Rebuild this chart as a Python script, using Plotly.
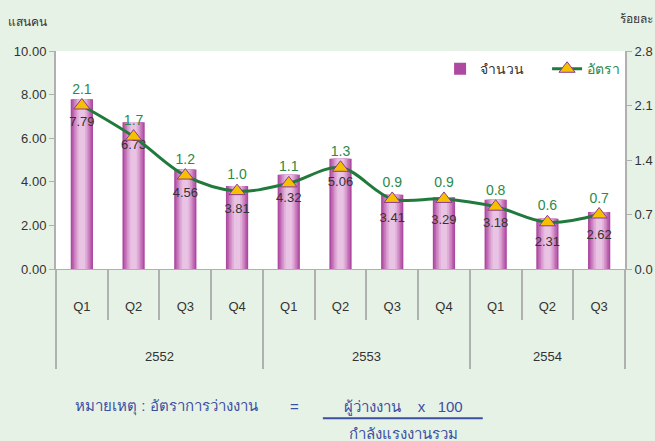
import plotly.graph_objects as go

years = ['2552'] * 4 + ['2553'] * 4 + ['2554'] * 3
quarters = ['Q1', 'Q2', 'Q3', 'Q4', 'Q1', 'Q2', 'Q3', 'Q4', 'Q1', 'Q2', 'Q3']
counts = [7.79, 6.73, 4.56, 3.81, 4.32, 5.06, 3.41, 3.29, 3.18, 2.31, 2.62]  # แสนคน
rates = [2.1, 1.7, 1.2, 1.0, 1.1, 1.3, 0.9, 0.9, 0.8, 0.6, 0.7]  # ร้อยละ

n = len(quarters)
idx = list(range(n))
FONT = 'Liberation Sans Narrow, Arial Narrow, Liberation Sans, sans-serif'
GREEN = '#1f7a3c'
GRAY = '#b0b0b0'

# year groups -> boundaries and centres for the two-level axis
groups = []
for i, y in enumerate(years):
    if not groups or groups[-1][0] != y:
        groups.append([y, i, i])
    else:
        groups[-1][2] = i
year_bounds = [g[1] - 0.5 for g in groups] + [groups[-1][2] + 0.5]
year_mid = [(g[1] + g[2]) / 2 for g in groups]

fig = go.Figure()

# fake a horizontal gradient by stacking narrower, lighter bars
layers = [(0.43, '#ad4a9f'), (0.37, '#bb62b0'), (0.31, '#c97cbe'),
          (0.25, '#d696cb'), (0.19, '#e0aed8'), (0.12, '#e9c3e3')]
for i, (w, c) in enumerate(layers):
    fig.add_trace(go.Bar(
        x=idx, y=counts, width=w,
        marker=dict(color=c, line=dict(width=0)),
        name='จำนวน', showlegend=(i == 0),
        hoverinfo='skip' if i else None,
    ))

# count labels under the triangles (invisible big marker pushes the text down)
fig.add_trace(go.Scatter(
    x=idx, y=counts, mode='markers+text',
    text=['%.2f' % v for v in counts], textposition='bottom center',
    textfont=dict(family=FONT, size=13, color='#333333'),
    marker=dict(size=26, opacity=0),
    showlegend=False, hoverinfo='skip',
))

fig.add_trace(go.Scatter(
    x=idx, y=rates, yaxis='y2',
    mode='lines+markers',
    name='<span style="color:#2a8a4a">อัตรา</span>',
    line=dict(color=GREEN, width=3, shape='spline', smoothing=1.0),
    marker=dict(symbol='triangle-up', size=14, color='#f6c000',
                line=dict(color='#8a3a8a', width=1)),
))

# rate labels above the triangles
fig.add_trace(go.Scatter(
    x=idx, y=rates, yaxis='y2', mode='markers+text',
    text=['%.1f' % v for v in rates], textposition='top center',
    textfont=dict(family=FONT, size=14, color='#2a8a4a'),
    marker=dict(size=12, opacity=0),
    showlegend=False, hoverinfo='skip',
))

# invisible helpers so the extra x axes get drawn
for ax in ['x2', 'x3']:
    fig.add_trace(go.Scatter(x=[0], y=[0], xaxis=ax, mode='markers',
                             marker=dict(opacity=0), showlegend=False,
                             hoverinfo='skip'))

xrange = [-0.5, n - 0.5]
fig.update_layout(
    width=655, height=441,
    margin=dict(l=56, r=30, t=51, b=172, autoexpand=False),
    paper_bgcolor='#e7f2e6',
    plot_bgcolor='white',
    barmode='overlay',
    font=dict(family=FONT, size=13, color='#333333'),
    legend=dict(orientation='h', x=0.675, y=0.99, xanchor='left', yanchor='top',
                bgcolor='rgba(0,0,0,0)', font=dict(size=14, color='#333333'),
                itemwidth=30, entrywidth=62, entrywidthmode='pixels',
                tracegroupgap=0),
    xaxis=dict(
        range=xrange, tickmode='array', tickvals=idx, ticktext=quarters,
        ticks='', ticklabelstandoff=25,
        showline=True, linecolor=GRAY, linewidth=1,
        showgrid=False, zeroline=False,
    ),
    # quarter separators
    xaxis2=dict(
        range=xrange, overlaying='x', anchor='y', side='bottom',
        tickmode='array', tickvals=[i - 0.5 for i in range(n + 1)],
        ticks='outside', ticklen=50, tickcolor=GRAY, tickwidth=1.5,
        showticklabels=False, showgrid=False, zeroline=False,
    ),
    # year separators
    xaxis3=dict(
        range=xrange, overlaying='x', anchor='y', side='bottom',
        tickmode='array', tickvals=year_bounds,
        ticks='outside', ticklen=99, tickcolor=GRAY, tickwidth=1.5,
        showticklabels=False, showgrid=False, zeroline=False,
    ),
    yaxis=dict(
        range=[0, 10], dtick=2, tickformat='.2f',
        showline=True, linecolor=GRAY, linewidth=2,
        ticks='outside', ticklen=5, tickcolor=GRAY,
        showgrid=False, zeroline=False,
    ),
    yaxis2=dict(
        range=[0, 2.8], dtick=0.7, tickformat='.1f',
        overlaying='y', side='right',
        showline=True, linecolor=GRAY, linewidth=2,
        ticks='outside', ticklen=5, tickcolor=GRAY,
        showgrid=False, zeroline=False,
    ),
)

for y, m in zip([g[0] for g in groups], year_mid):
    fig.add_annotation(text=y, x=m, xref='x', y=-0.40, yref='paper',
                       showarrow=False, yanchor='middle',
                       font=dict(size=13, color='#333333'))

# axis units
fig.add_annotation(text='แสนคน', xref='paper', yref='paper', x=-0.088, y=1.135,
                   xanchor='left', yanchor='middle', showarrow=False,
                   font=dict(size=12, color='#333333'))
fig.add_annotation(text='ร้อยละ', xref='paper', yref='paper', x=1.052, y=1.145,
                   xanchor='right', yanchor='middle', showarrow=False,
                   font=dict(size=12, color='#333333'))

# formula note
NOTE = dict(size=15, color='#3b4fa3')
fig.add_annotation(text='หมายเหตุ : อัตราการว่างงาน', xref='paper', yref='paper',
                   x=0.03, y=-0.633, xanchor='left', yanchor='middle',
                   showarrow=False, font=NOTE)
fig.add_annotation(text='=', xref='paper', yref='paper', x=0.42, y=-0.633,
                   xanchor='center', yanchor='middle', showarrow=False, font=NOTE)
fig.add_annotation(text='ผู้ว่างงาน    x   100', xref='paper', yref='paper',
                   x=0.61, y=-0.633, xanchor='center', yanchor='middle',
                   showarrow=False, font=NOTE)
fig.add_annotation(text='กำลังแรงงานรวม', xref='paper', yref='paper',
                   x=0.61, y=-0.755, xanchor='center', yanchor='middle',
                   showarrow=False, font=NOTE)
fig.add_shape(type='line', xref='paper', yref='paper', x0=0.469, x1=0.75,
              y0=-0.685, y1=-0.685, line=dict(color='#3b4fa3', width=2))

fig.write_html('out.html', config={'displayModeBar': False},
               post_script="document.body.style.margin='0';")
